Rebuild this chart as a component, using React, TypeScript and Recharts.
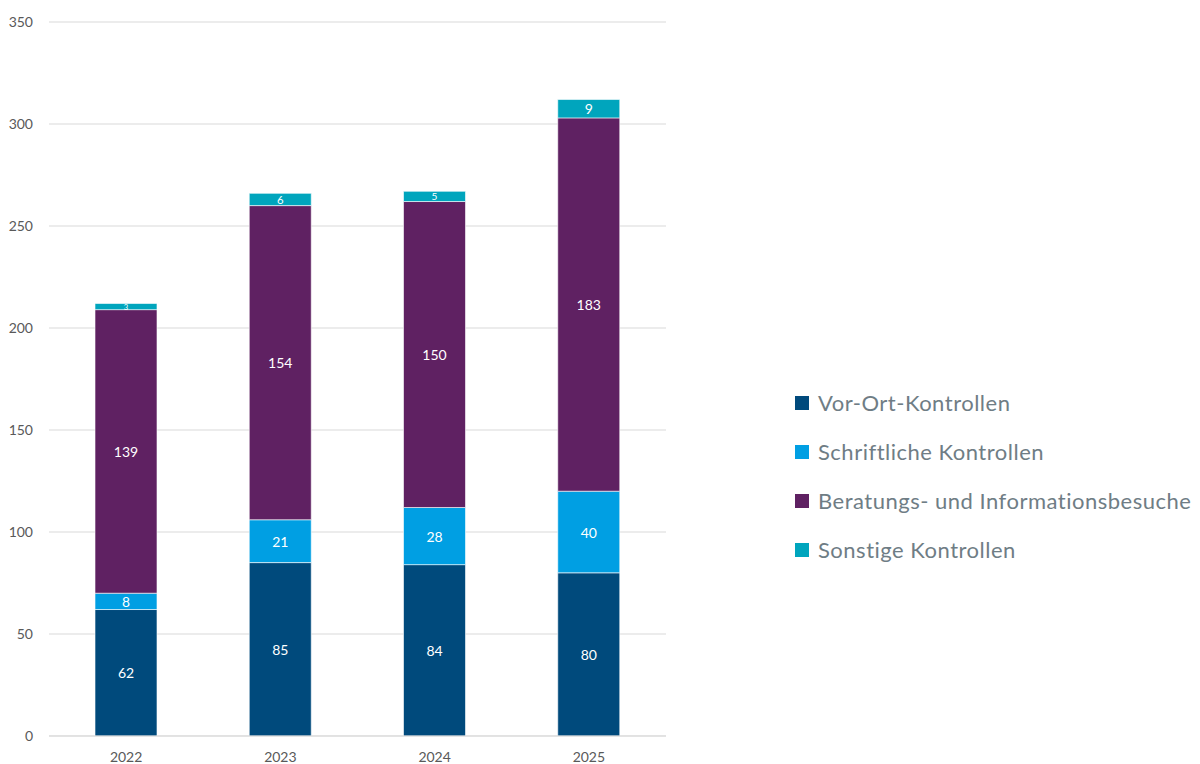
import { BarChart, Bar, XAxis, YAxis, CartesianGrid, LabelList } from "recharts";

const years = ["2022", "2023", "2024", "2025"];
const vorOrt = [62, 85, 84, 80];
const schriftlich = [8, 21, 28, 40];
const beratung = [139, 154, 150, 183];
const sonstige = [3, 6, 5, 9];
const yTicks = [0, 50, 100, 150, 200, 250, 300, 350];

const series = [
  { key: "vorOrt", name: "Vor-Ort-Kontrollen", color: "#004A7C" },
  { key: "schriftlich", name: "Schriftliche Kontrollen", color: "#009FE3" },
  { key: "beratung", name: "Beratungs- und Informationsbesuche", color: "#5F2162" },
  { key: "sonstige", name: "Sonstige Kontrollen", color: "#00A5BD" },
];

const data = years.map((year, i) => ({
  year,
  vorOrt: vorOrt[i],
  schriftlich: schriftlich[i],
  beratung: beratung[i],
  sonstige: sonstige[i],
}));

const FONT = "Lato, 'Open Sans', sans-serif";

// shrink the label when the segment is thin
const SegmentLabel = (props: any) => {
  const { x, y, width, height, value } = props;
  const h = Math.abs(height);
  const size = Math.min(14, 4 + h * 0.6);
  return (
    <text
      x={x + width / 2}
      y={y + height / 2}
      fill="#fff"
      fontSize={size}
      fontFamily={FONT}
      textAnchor="middle"
      dominantBaseline="central"
    >
      {value}
    </text>
  );
};

export default function App() {
  return (
    <div style={{ position: "absolute", left: 0, top: 0, width: 1200, height: 764, background: "#fff" }}>
      <BarChart
        width={1200}
        height={764}
        data={data}
        margin={{ top: 22, right: 534, bottom: 0, left: 1 }}
        barSize={62}
      >
        <CartesianGrid vertical={false} stroke="#d9d9d9" />
        <XAxis
          dataKey="year"
          height={28}
          axisLine={{ stroke: "#d9d9d9" }}
          tickLine={false}
          tickMargin={10}
          tick={{ fontSize: 14, fill: "#595959", fontFamily: FONT }}
        />
        <YAxis
          width={48}
          domain={[0, 350]}
          ticks={yTicks}
          axisLine={false}
          tickLine={false}
          tickSize={0}
          tickMargin={16}
          tick={{ fontSize: 14, fill: "#595959", fontFamily: FONT }}
        />
        {series.map((s) => (
          <Bar
            key={s.key}
            dataKey={s.key}
            name={s.name}
            stackId="a"
            fill={s.color}
            stroke="#fff"
            strokeWidth={0.6}
            isAnimationActive={false}
          >
            <LabelList dataKey={s.key} content={SegmentLabel} />
          </Bar>
        ))}
      </BarChart>
      <div style={{ position: "absolute", left: 795, top: 378, fontFamily: FONT }}>
        {series.map((s) => (
          <div key={s.key} style={{ display: "flex", alignItems: "center", height: 49 }}>
            <span style={{ width: 14, height: 14, background: s.color, display: "inline-block", marginRight: 9 }} />
            <span style={{ fontSize: 22, letterSpacing: 0.5, color: "#6F7D85", whiteSpace: "nowrap" }}>{s.name}</span>
          </div>
        ))}
      </div>
    </div>
  );
}
